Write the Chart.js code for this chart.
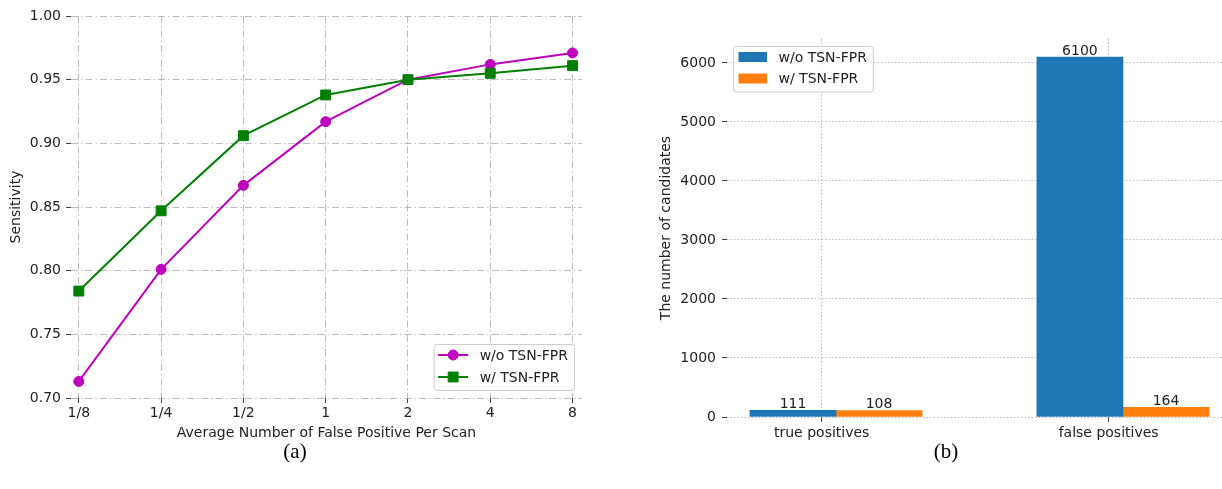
<!DOCTYPE html>
<html>
<head>
<meta charset="utf-8">
<script src="https://cdn.jsdelivr.net/npm/chart.js@4.4.1/dist/chart.umd.min.js"></script>
<style>
  html, body { margin: 0; padding: 0; background: #fff; overflow: hidden; }
  body { width: 1222px; height: 489px; position: relative; }
  canvas { position: absolute; top: 0; }
  #sens { left: 0; }
  #cand { left: 640px; }
  .caption {
    position: absolute; top: 439px;
    font-family: "Liberation Serif", serif; font-size: 21px; color: #000;
    transform: translateX(-50%);
  }
</style>
</head>
<body>
<canvas id="sens" width="600" height="450"></canvas>
<canvas id="cand" width="600" height="450"></canvas>
<div class="caption" style="left:295px">(a)</div>
<div class="caption" style="left:946px">(b)</div>
<script>
// (a) sensitivity vs. average false positives per scan
const fpLabels = ['1/8', '1/4', '1/2', '1', '2', '4', '8'];
const sensWithout = [0.713, 0.801, 0.867, 0.917, 0.950, 0.962, 0.971];
const sensWith = [0.784, 0.847, 0.906, 0.938, 0.950, 0.955, 0.961];

// (b) number of candidates
const candCategories = ['true positives', 'false positives'];
const candWithout = [111, 6100];
const candWith = [108, 164];
const candTicks = [0, 1000, 2000, 3000, 4000, 5000, 6000];

const seriesNames = ['w/o TSN-FPR', 'w/ TSN-FPR'];

const FONT = '"DejaVu Sans", sans-serif';
Chart.defaults.font.family = FONT;
Chart.defaults.font.size = 14;
Chart.defaults.color = '#222';
Chart.defaults.animation = false;

const tickColor = '#444';
const gridColor = 'rgba(176, 176, 176, 0.85)';

// axis boxes get a fixed size so the plot area lands where the reference has it
function fixedSize(size) {
  return (scale) => {
    if (scale.isHorizontal()) scale.height = size;
    else scale.width = size;
  };
}

function legendFrame(ctx, x, y, w, h) {
  ctx.beginPath();
  ctx.roundRect(x + 0.5, y + 0.5, w, h, 3);
  ctx.fillStyle = 'rgba(255, 255, 255, 0.85)';
  ctx.fill();
  ctx.strokeStyle = '#cccccc';
  ctx.lineWidth = 1;
  ctx.stroke();
}

const sensLegend = {
  id: 'sensLegend',
  afterDraw(chart) {
    const ctx = chart.ctx;
    const area = chart.chartArea;
    const sets = chart.data.datasets;

    ctx.save();
    ctx.font = `14px ${FONT}`;
    const tw = Math.max(...sets.map(d => ctx.measureText(d.label).width));
    const w = 4.5 + 30 + 11.5 + tw + 6;
    const h = 46;
    const x0 = area.right - 8 - w;
    const y0 = area.bottom - 8 - h;
    legendFrame(ctx, x0, y0, w, h);

    sets.forEach((d, i) => {
      const y = y0 + 11 + i * 22;
      ctx.strokeStyle = d.borderColor;
      ctx.fillStyle = d.borderColor;
      ctx.lineWidth = 2;
      ctx.beginPath();
      ctx.moveTo(x0 + 4.5, y);
      ctx.lineTo(x0 + 34.5, y);
      ctx.stroke();
      ctx.lineWidth = 1;
      Chart.helpers.drawPoint(ctx, {pointStyle: d.pointStyle, radius: d.pointRadius, borderWidth: 1, rotation: 0}, x0 + 19.5, y);
      ctx.fillStyle = '#222';
      ctx.textBaseline = 'middle';
      ctx.textAlign = 'left';
      ctx.fillText(d.label, x0 + 46, y + 1);
    });
    ctx.restore();
  },
};

const candLegend = {
  id: 'candLegend',
  afterDraw(chart) {
    const ctx = chart.ctx;
    const area = chart.chartArea;
    const sets = chart.data.datasets;

    ctx.save();
    ctx.font = `14px ${FONT}`;
    const tw = Math.max(...sets.map(d => ctx.measureText(d.label).width));
    const w = 5.5 + 28.5 + 11.5 + tw + 6;
    const h = 45.5;
    const x0 = area.left + 6;
    const y0 = area.top + 7;
    legendFrame(ctx, x0, y0, w, h);

    sets.forEach((d, i) => {
      const y = y0 + 11 + i * 21.5;
      ctx.fillStyle = d.backgroundColor;
      ctx.fillRect(x0 + 5.5, y - 5, 28.5, 10);
      ctx.fillStyle = '#222';
      ctx.textBaseline = 'middle';
      ctx.textAlign = 'left';
      ctx.fillText(d.label, x0 + 45.5, y + 1);
    });
    ctx.restore();
  },
};

const barValues = {
  id: 'barValues',
  afterDraw(chart) {
    const ctx = chart.ctx;
    ctx.save();
    ctx.font = `14px ${FONT}`;
    ctx.fillStyle = '#222';
    ctx.textAlign = 'center';
    ctx.textBaseline = 'alphabetic';
    chart.data.datasets.forEach((d, di) => {
      chart.getDatasetMeta(di).data.forEach((bar, i) => {
        ctx.fillText(String(d.data[i].y), bar.x, bar.y - 2.5);
      });
    });
    ctx.restore();
  },
};

new Chart(document.getElementById('sens'), {
  type: 'line',
  data: {
    datasets: [
      {
        label: seriesNames[0],
        data: sensWithout.map((v, i) => ({x: i, y: v})),
        borderColor: '#bf00bf',
        backgroundColor: '#bf00bf',
        pointBackgroundColor: '#bf00bf',
        pointBorderColor: '#bf00bf',
        pointStyle: 'circle',
        pointRadius: 5,
        pointBorderWidth: 1,
        borderWidth: 2,
        tension: 0,
        order: 2,
      },
      {
        label: seriesNames[1],
        data: sensWith.map((v, i) => ({x: i, y: v})),
        borderColor: '#008000',
        backgroundColor: '#008000',
        pointBackgroundColor: '#008000',
        pointBorderColor: '#008000',
        pointStyle: 'rect',
        pointRadius: 7,
        pointBorderWidth: 1,
        borderWidth: 2,
        tension: 0,
        order: 1,
      },
    ],
  },
  options: {
    responsive: false,
    animation: false,
    layout: {padding: {top: 16, right: 18, bottom: 0, left: 0}},
    plugins: {legend: {display: false}, tooltip: {enabled: false}},
    scales: {
      x: {
        type: 'linear',
        min: -0.095,
        max: 6.115,
        afterFit: fixedSize(52),
        ticks: {
          stepSize: 1,
          includeBounds: false,
          autoSkip: false,
          maxRotation: 0,
          padding: 2,
          callback: (v) => fpLabels[v] ?? '',
        },
        grid: {color: gridColor, lineWidth: 1, tickLength: 5, tickColor: tickColor, tickWidth: 1, tickBorderDash: []},
        border: {display: false, dash: [7, 3, 1.5, 3]},
        title: {display: true, text: 'Average Number of False Positive Per Scan', padding: {top: 0, bottom: 8.6}},
      },
      y: {
        min: 0.70,
        max: 1.00,
        afterFit: fixedSize(71),
        ticks: {stepSize: 0.05, includeBounds: false, padding: 5, callback: (v) => v.toFixed(2)},
        grid: {color: gridColor, lineWidth: 1, tickLength: 5, tickColor: tickColor, tickWidth: 1, tickBorderDash: []},
        border: {display: false, dash: [7, 3, 1.5, 3]},
        title: {display: true, text: 'Sensitivity', padding: {top: 8, bottom: 0}},
      },
    },
  },
  plugins: [sensLegend],
});

new Chart(document.getElementById('cand'), {
  type: 'bar',
  data: {
    datasets: [
      {
        label: seriesNames[0],
        data: candWithout.map((v, i) => ({x: i - 0.1, y: v})),
        backgroundColor: '#1f77b4',
      },
      {
        label: seriesNames[1],
        data: candWith.map((v, i) => ({x: i + 0.2, y: v})),
        backgroundColor: '#ff7f0e',
      },
    ],
  },
  options: {
    responsive: false,
    animation: false,
    datasets: {bar: {grouped: false, barPercentage: 1, categoryPercentage: 1, borderWidth: 0}},
    layout: {padding: {top: 39, right: 8, bottom: 0, left: 0}},
    plugins: {legend: {display: false}, tooltip: {enabled: false}},
    scales: {
      x: {
        type: 'linear',
        min: -0.33,
        max: 1.43,
        offset: false,
        z: 1,
        afterFit: fixedSize(33),
        ticks: {
          stepSize: 1,
          includeBounds: false,
          autoSkip: false,
          maxRotation: 0,
          padding: 3,
          callback: (v) => candCategories[v] ?? '',
        },
        grid: {offset: false, color: gridColor, lineWidth: 1, tickLength: 5, tickColor: tickColor, tickWidth: 1, tickBorderDash: []},
        border: {display: false, dash: [1.5, 2]},
      },
      y: {
        min: 0,
        max: 6405,
        z: 1,
        afterFit: fixedSize(87),
        afterBuildTicks: (scale) => { scale.ticks = candTicks.map(v => ({value: v})); },
        ticks: {padding: 6, callback: (v) => String(v)},
        grid: {color: gridColor, lineWidth: 1, tickLength: 5, tickColor: tickColor, tickWidth: 1, tickBorderDash: []},
        border: {display: false, dash: [1.5, 2]},
        title: {display: true, text: 'The number of candidates', padding: {top: 17.6, bottom: 0}},
      },
    },
  },
  plugins: [candLegend, barValues],
});
</script>
</body>
</html>
